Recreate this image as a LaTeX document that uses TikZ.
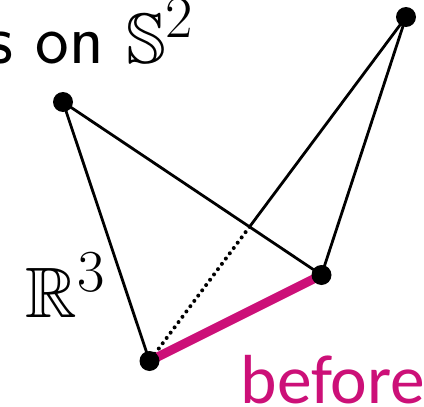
\documentclass[tikz,border=0pt]{standalone}
\usepackage{amssymb}
\usepackage{fontspec}
\newfontfamily\carlito{Carlito}
\usetikzlibrary{intersections}
\definecolor{mag}{RGB}{204,16,120}
\begin{document}
\begin{tikzpicture}[x=1pt,y=-1pt,
  dot/.style={circle,fill=black,inner sep=0pt,minimum size=20pt},
  edge/.style={line width=2.8pt,black},
  label/.style={inner sep=0pt,font=\fontsize{24.88}{30}\selectfont,scale=2.87}]
\useasboundingbox (0,0) rectangle (424,407);
\clip (0,0) rectangle (424,407);
\coordinate (A) at (63,102);
\coordinate (B) at (406,17);
\coordinate (C) at (321.5,275);
\coordinate (D) at (149.5,361);
\path[name path=ac] (A) -- (C);
\path[name path=bd] (B) -- (D);
\path[name intersections={of=ac and bd, by=X}];
\draw[edge] (A) -- (D);
\draw[edge] (A) -- (C);
\draw[edge] (B) -- (C);
\draw[edge] (B) -- (X);
\draw[line width=4pt,dash pattern=on 0pt off 6.6pt,line cap=round] (X) -- (D);
\draw[line width=9pt,mag] (D) -- (C);
\foreach \p in {A,B,C,D} \node[dot] (n\p) at (\p) {};
\node[label,anchor=base east] (t1) at (195,63) {\sffamily s on $\mathbb{S}^2$};
\node[label,anchor=base west] (t2) at (25,317) {$\mathbb{R}^3$};
\node[label,anchor=base west,text=mag,font=\fontsize{24.19}{30}\carlito] (t3) at (240,403) {before};
\end{tikzpicture}
\end{document}
